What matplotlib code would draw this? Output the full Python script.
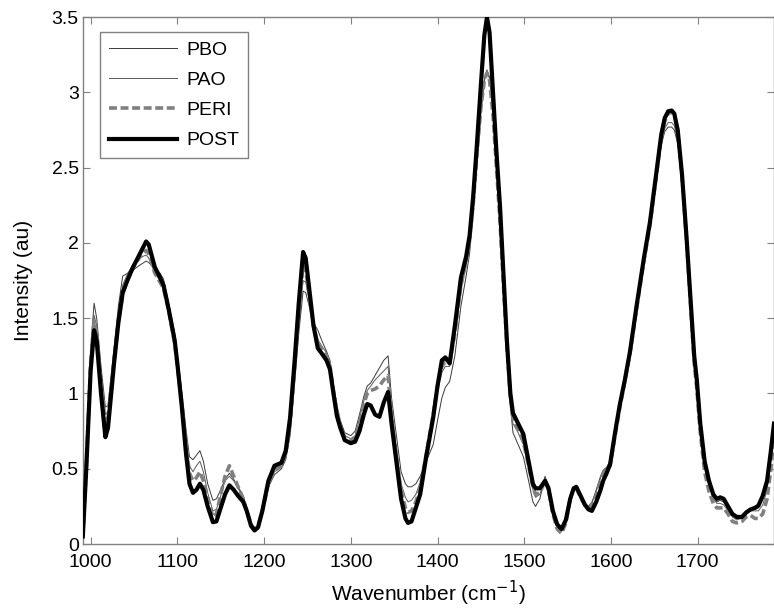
import matplotlib
matplotlib.use("Agg")
import matplotlib.pyplot as plt
from matplotlib.ticker import FuncFormatter

wavenumber = [
    991, 995, 1000, 1004, 1007, 1012, 1017, 1020, 1027, 1032,
    1037, 1043, 1049, 1056, 1064, 1067, 1074, 1080, 1084, 1090,
    1097, 1100, 1105, 1110, 1114, 1118, 1122, 1126, 1130, 1135,
    1141, 1145, 1150, 1155, 1160, 1165, 1170, 1176, 1180, 1185,
    1189, 1193, 1198, 1205, 1212, 1220, 1225, 1230, 1235, 1240,
    1245, 1248, 1252, 1257, 1262, 1266, 1272, 1276, 1280, 1284,
    1288, 1293, 1300, 1305, 1310, 1315, 1319, 1323, 1328, 1333,
    1338, 1343, 1347, 1353, 1358, 1363, 1366, 1370, 1375, 1380,
    1387, 1395, 1400, 1405, 1409, 1414, 1420, 1427, 1433, 1437,
    1441, 1445, 1450, 1454, 1457, 1460, 1464, 1468, 1472, 1476,
    1480, 1484, 1487, 1493, 1499, 1505, 1510, 1513, 1518, 1524,
    1528, 1533, 1538, 1543, 1548, 1553, 1557, 1560, 1565, 1570,
    1574, 1578, 1583, 1588, 1591, 1595, 1599, 1605, 1610, 1616,
    1622, 1630, 1638, 1645, 1652, 1658, 1662, 1666, 1670, 1673,
    1677, 1682, 1687, 1692, 1696, 1699, 1703, 1708, 1713, 1718,
    1722, 1726, 1730, 1735, 1740, 1745, 1751, 1756, 1761, 1766,
    1770, 1775, 1780, 1784, 1788,
]

post = [
    0.05, 0.50, 1.15, 1.42, 1.35, 1.00, 0.71, 0.77, 1.20, 1.47,
    1.67, 1.76, 1.84, 1.92, 2.01, 1.99, 1.84, 1.77, 1.72, 1.56,
    1.35, 1.20, 0.92, 0.60, 0.40, 0.34, 0.36, 0.40, 0.36, 0.25,
    0.145, 0.15, 0.24, 0.33, 0.39, 0.36, 0.32, 0.28, 0.22, 0.12,
    0.09, 0.11, 0.22, 0.42, 0.52, 0.54, 0.62, 0.84, 1.20, 1.60,
    1.94, 1.90, 1.70, 1.45, 1.30, 1.27, 1.22, 1.16, 1.00, 0.85,
    0.77, 0.69, 0.67, 0.68, 0.75, 0.86, 0.93, 0.92, 0.86, 0.845,
    0.94, 1.01, 0.80, 0.53, 0.30, 0.17, 0.14, 0.15, 0.24, 0.33,
    0.58, 0.84, 1.05, 1.22, 1.24, 1.20, 1.45, 1.77, 1.91, 2.05,
    2.30, 2.62, 3.05, 3.38, 3.50, 3.40, 3.00, 2.60, 2.25, 1.80,
    1.35, 1.00, 0.87, 0.80, 0.73, 0.55, 0.40, 0.37, 0.37, 0.42,
    0.37, 0.22, 0.13, 0.10, 0.16, 0.30, 0.37, 0.38, 0.32, 0.26,
    0.23, 0.22, 0.28, 0.36, 0.42, 0.47, 0.53, 0.75, 0.92, 1.09,
    1.28, 1.60, 1.90, 2.14, 2.45, 2.72, 2.83, 2.875, 2.88, 2.86,
    2.75, 2.45, 2.05, 1.60, 1.25, 1.09, 0.80, 0.55, 0.42, 0.33,
    0.30, 0.31, 0.30, 0.25, 0.20, 0.18, 0.18, 0.21, 0.23, 0.24,
    0.255, 0.32, 0.42, 0.60, 0.80,
]

peri = [
    0.05, 0.52, 1.20, 1.48, 1.40, 1.05, 0.80, 0.84, 1.22, 1.48,
    1.66, 1.76, 1.84, 1.90, 1.95, 1.93, 1.80, 1.74, 1.70, 1.55,
    1.33, 1.18, 0.95, 0.66, 0.47, 0.42, 0.44, 0.48, 0.42, 0.30,
    0.18, 0.20, 0.33, 0.45, 0.52, 0.45, 0.38, 0.30, 0.22, 0.13,
    0.10, 0.12, 0.22, 0.40, 0.49, 0.52, 0.60, 0.80, 1.15, 1.55,
    1.85, 1.82, 1.65, 1.45, 1.33, 1.30, 1.25, 1.18, 1.02, 0.88,
    0.78, 0.71, 0.69, 0.70, 0.80, 0.93, 1.00, 1.02, 1.03, 1.05,
    1.09, 1.12, 0.85, 0.57, 0.35, 0.24, 0.21, 0.22, 0.28, 0.37,
    0.60, 0.86, 1.05, 1.18, 1.21, 1.20, 1.40, 1.72, 1.88, 2.02,
    2.25, 2.55, 2.90, 3.08, 3.13, 3.08, 2.85, 2.50, 2.15, 1.72,
    1.32, 0.98, 0.83, 0.76, 0.68, 0.52, 0.38, 0.33, 0.34, 0.42,
    0.36, 0.20, 0.10, 0.07, 0.14, 0.30, 0.37, 0.37, 0.31, 0.26,
    0.24, 0.26, 0.32, 0.42, 0.47, 0.49, 0.52, 0.73, 0.90, 1.08,
    1.27, 1.58, 1.88, 2.12, 2.43, 2.70, 2.81, 2.86, 2.87, 2.85,
    2.74, 2.44, 2.03, 1.57, 1.20, 1.03, 0.74, 0.48, 0.35, 0.27,
    0.24, 0.24, 0.24, 0.20, 0.15, 0.14, 0.15, 0.18, 0.19, 0.17,
    0.17, 0.20, 0.30, 0.48, 0.70,
]

pao = [
    0.05, 0.55, 1.22, 1.52, 1.45, 1.12, 0.86, 0.88, 1.25, 1.52,
    1.72, 1.80, 1.86, 1.90, 1.92, 1.90, 1.80, 1.75, 1.72, 1.57,
    1.36, 1.22, 0.98, 0.70, 0.52, 0.48, 0.52, 0.55, 0.48, 0.34,
    0.22, 0.23, 0.32, 0.42, 0.45, 0.42, 0.37, 0.31, 0.24, 0.14,
    0.10, 0.12, 0.22, 0.40, 0.48, 0.51, 0.58, 0.76, 1.10, 1.45,
    1.75, 1.74, 1.62, 1.45, 1.36, 1.32, 1.27, 1.20, 1.04, 0.90,
    0.80, 0.72, 0.70, 0.72, 0.83, 0.95, 1.02, 1.05, 1.09, 1.12,
    1.15, 1.18, 0.90, 0.62, 0.40, 0.31, 0.28, 0.29, 0.33, 0.41,
    0.63, 0.84, 1.02, 1.14, 1.18, 1.18, 1.37, 1.68, 1.85, 1.98,
    2.22, 2.50, 2.88, 3.08, 3.14, 3.09, 2.86, 2.50, 2.14, 1.70,
    1.28, 0.95, 0.80, 0.74, 0.66, 0.50, 0.36, 0.31, 0.33, 0.43,
    0.37, 0.21, 0.12, 0.09, 0.15, 0.30, 0.37, 0.37, 0.31, 0.26,
    0.25, 0.28, 0.35, 0.44, 0.48, 0.50, 0.54, 0.74, 0.91, 1.08,
    1.27, 1.58, 1.87, 2.10, 2.40, 2.66, 2.76, 2.80, 2.80, 2.78,
    2.68, 2.40, 2.02, 1.58, 1.22, 1.06, 0.77, 0.52, 0.39, 0.30,
    0.27, 0.27, 0.26, 0.22, 0.18, 0.16, 0.17, 0.20, 0.22, 0.22,
    0.22, 0.26, 0.36, 0.55, 0.76,
]

pbo = [
    0.05, 0.58, 1.30, 1.60, 1.50, 1.18, 0.91, 0.92, 1.30, 1.58,
    1.78, 1.80, 1.82, 1.85, 1.88, 1.87, 1.83, 1.80, 1.76, 1.60,
    1.40, 1.25, 1.02, 0.76, 0.58, 0.56, 0.59, 0.62, 0.55, 0.40,
    0.29, 0.30, 0.36, 0.43, 0.47, 0.43, 0.38, 0.32, 0.24, 0.14,
    0.10, 0.12, 0.22, 0.38, 0.46, 0.50, 0.56, 0.72, 1.05, 1.40,
    1.68, 1.67, 1.58, 1.47, 1.42, 1.36, 1.28, 1.22, 1.06, 0.92,
    0.82, 0.74, 0.72, 0.75, 0.86, 0.98, 1.05, 1.07, 1.12, 1.17,
    1.22, 1.25, 0.97, 0.70, 0.48, 0.40, 0.38, 0.38, 0.40, 0.45,
    0.55, 0.66, 0.82, 0.97, 1.04, 1.08, 1.25, 1.58, 1.78, 1.93,
    2.18, 2.48, 2.86, 3.08, 3.15, 3.10, 2.88, 2.52, 2.16, 1.72,
    1.30, 0.92, 0.74, 0.66, 0.58, 0.42, 0.28, 0.25, 0.30, 0.45,
    0.38, 0.22, 0.13, 0.10, 0.16, 0.31, 0.37, 0.37, 0.32, 0.27,
    0.25, 0.27, 0.36, 0.45, 0.49, 0.51, 0.55, 0.75, 0.92, 1.09,
    1.28, 1.59, 1.87, 2.10, 2.40, 2.65, 2.74, 2.77, 2.77, 2.75,
    2.66, 2.40, 2.02, 1.60, 1.25, 1.09, 0.80, 0.55, 0.42, 0.32,
    0.28, 0.29, 0.28, 0.23, 0.19, 0.17, 0.18, 0.21, 0.23, 0.23,
    0.24, 0.30, 0.40, 0.58, 0.78,
]

series_names = ["PBO", "PAO", "PERI", "POST"]
x_ticks = [1000, 1100, 1200, 1300, 1400, 1500, 1600, 1700]
y_ticks = [0, 0.5, 1, 1.5, 2, 2.5, 3, 3.5]

plt.rcParams["font.family"] = ["Liberation Sans", "DejaVu Sans"]

fig = plt.figure(figsize=(7.74, 6.14), dpi=100)
ax = fig.add_axes([0.107, 0.114, 0.893, 0.858])

ax.plot(wavenumber, pbo, color="#3a3a3a", lw=0.7, label=series_names[0], zorder=2)
ax.plot(wavenumber, pao, color="#5a5a5a", lw=0.7, label=series_names[1], zorder=2)
ax.plot(wavenumber, peri, color="#808080", lw=2.6, ls=(0, (2.2, 1.0)), label=series_names[2], zorder=3)
ax.plot(wavenumber, post, color="black", lw=3.0, label=series_names[3], zorder=4)

ax.set_xlim(991, 1788)
ax.set_ylim(0, 3.5)
ax.set_xticks(x_ticks)
ax.set_yticks(y_ticks)
ax.yaxis.set_major_formatter(FuncFormatter(lambda v, p: f"{v:g}"))
ax.tick_params(direction="in", length=5, width=0.8, color="#808080",
               top=True, right=True, labelsize=14)
ax.tick_params(axis="y", pad=3)
ax.tick_params(axis="x", pad=7)
for s in ax.spines.values():
    s.set_color("#808080")
    s.set_linewidth(1.0)

ax.set_xlabel("Wavenumber (cm$^{-1}$)", fontsize=15, labelpad=6)
ax.set_ylabel("Intensity (au)", fontsize=15, labelpad=13)

leg = ax.legend(loc="upper left", bbox_to_anchor=(0.025, 0.9715), fontsize=14,
                borderaxespad=0, handlelength=3.5, handletextpad=0.5,
                borderpad=0.45, labelspacing=0.65, fancybox=False,
                framealpha=1)
leg.get_frame().set_edgecolor("#808080")
leg.get_frame().set_linewidth(1.0)

fig.savefig("out.png", dpi=100)
